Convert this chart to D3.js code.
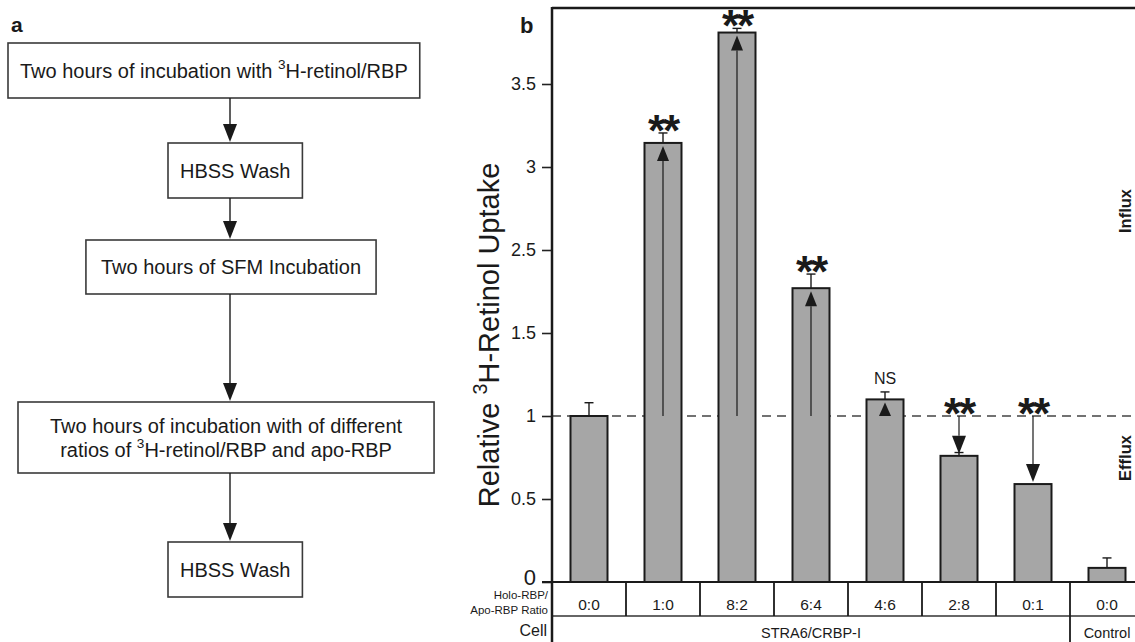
<!DOCTYPE html>
<html>
<head>
<meta charset="utf-8">
<script src="https://cdn.jsdelivr.net/npm/d3@7/dist/d3.min.js"></script>
<style>
  html, body { margin: 0; padding: 0; background: #fff; }
  svg { display: block; font-family: Arial, "Liberation Sans", Helvetica, sans-serif; }
</style>
</head>
<body>
<svg id="chart" width="1135" height="642"></svg>
<script>
// ---------------- DATA ----------------
const ratioLabels = ["0:0", "1:0", "8:2", "6:4", "4:6", "2:8", "0:1", "0:0"];
const uptake      = [1.00, 3.145, 3.81, 2.04, 1.10, 0.76, 0.59, 0.085];
const uptakeErr   = [0.08, 0.06, 0.025, 0.17, 0.045, 0.02, 0.0, 0.06];
const significance = ["", "**", "**", "**", "NS", "**", "**", ""];
const flowDirection = ["", "up", "up", "up", "up", "down", "down", ""];
const cellGroups = ["STRA6/CRBP-I", "STRA6/CRBP-I", "STRA6/CRBP-I", "STRA6/CRBP-I",
                    "STRA6/CRBP-I", "STRA6/CRBP-I", "STRA6/CRBP-I", "Control"];
const yTickValues = [0, 0.5, 1, 1.5, 2.5, 3, 3.5];
const yTickLabels = ["0", "0.5", "1", "1.5", "2.5", "3", "3.5"];
const baselineValue = 1;

// Flowchart steps (panel a): each line is a list of [text, isSuperscript]
const flowSteps = [
  [[["Two hours of incubation with ", 0], ["3", 1], ["H-retinol/RBP", 0]]],
  [[["HBSS Wash", 0]]],
  [[["Two hours of SFM Incubation", 0]]],
  [[["Two hours of incubation with of different", 0]],
   [["ratios of ", 0], ["3", 1], ["H-retinol/RBP and apo-RBP", 0]]],
  [[["HBSS Wash", 0]]]
];

// ---------------- DRAW ----------------
const svg = d3.select("#chart");
const ink = "#1a1a1a";

function addRich(textSel, parts, baseSize) {
  let prevSup = false;
  parts.forEach(([t, sup]) => {
    const ts = textSel.append("tspan").text(t);
    if (sup) {
      ts.attr("font-size", baseSize * 0.68).attr("dy", -baseSize * 0.42);
    } else if (prevSup) {
      ts.attr("dy", baseSize * 0.42);
    }
    prevSup = !!sup;
  });
}

// ===== Panel a =====
const pa = svg.append("g");
pa.append("text").attr("x", 11).attr("y", 32).attr("font-size", 21).attr("font-weight", "bold")
  .attr("fill", ink).text("a");

// box placement: left edge (or centre) and vertical extent; width from the text
const boxLayout = [
  {left: 8,   pad: 12, y0: 43,  y1: 98},
  {left: 168, pad: 12, y0: 143, y1: 198},
  {cx: 231,   pad: 15, y0: 240, y1: 294},
  {left: 18,  pad: 32, y0: 402, y1: 473},
  {left: 168, pad: 12, y0: 542, y1: 597}
];
const arrowX = 230;
const fs = 20;
const lh = 24;
flowSteps.forEach((lines, i) => {
  const b = boxLayout[i];
  const g = pa.append("g");
  const rect = g.append("rect");
  const texts = [];
  let maxW = 0;
  lines.forEach((parts, j) => {
    const yb = (b.y0 + b.y1) / 2 + (j - (lines.length - 1) / 2) * lh + fs * 0.36;
    const t = g.append("text").attr("y", yb).attr("text-anchor", "middle")
      .attr("font-size", fs).attr("fill", ink);
    addRich(t, parts, fs);
    maxW = Math.max(maxW, t.node().getComputedTextLength());
    texts.push(t);
  });
  const w = maxW + 2 * b.pad;
  const x0 = b.left !== undefined ? b.left : b.cx - w / 2;
  b.x0 = x0; b.x1 = x0 + w;
  texts.forEach(t => t.attr("x", x0 + w / 2));
  rect.attr("x", x0).attr("y", b.y0).attr("width", w).attr("height", b.y1 - b.y0)
    .attr("fill", "#fff").attr("stroke", "#3a3a3a").attr("stroke-width", 1.6);
});
boxLayout.forEach((b, i) => {
  if (i === boxLayout.length - 1) return;
  const nb = boxLayout[i + 1];
  const tipY = nb.y0 - 1;
  pa.append("line").attr("x1", arrowX).attr("x2", arrowX).attr("y1", b.y1).attr("y2", tipY - 14)
    .attr("stroke", ink).attr("stroke-width", 1.4);
  pa.append("path").attr("d", `M${arrowX - 7},${tipY - 18} L${arrowX + 7},${tipY - 18} L${arrowX},${tipY} Z`)
    .attr("fill", ink);
});

// ===== Panel b =====
const axisX = 552, topY = 8, zeroY = 582, ratioRowBottom = 616, bottomY = 642, rightX = 1144;

const x = d3.scaleBand().domain(d3.range(ratioLabels.length)).range([axisX, rightX])
  .paddingInner(0.5).paddingOuter(0.25);
// the original axis jumps from 1.5 straight to 2.5 at the same spacing
const y = d3.scaleLinear().domain([0, 1.5, 2.5, 3.5]).range([zeroY, 333, 250, 84]);

const pb = svg.append("g");
pb.append("text").attr("x", 520).attr("y", 33).attr("font-size", 22).attr("font-weight", "bold")
  .attr("fill", ink).text("b");

// frame top
pb.append("line").attr("x1", axisX).attr("x2", 1135).attr("y1", topY).attr("y2", topY)
  .attr("stroke", ink).attr("stroke-width", 2.5);

// y axis
const yAxis = d3.axisLeft(y).tickValues(yTickValues).tickFormat((d, i) => yTickLabels[i])
  .tickSizeInner(10).tickSizeOuter(0).tickPadding(6);
const gy = pb.append("g").attr("transform", `translate(${axisX},0)`).call(yAxis);
gy.select(".domain").remove();
gy.selectAll(".tick line").attr("stroke", "#222").attr("stroke-width", 1.6);
gy.selectAll(".tick text").attr("font-size", 18).attr("fill", ink).attr("font-family", "Arial, 'Liberation Sans', sans-serif");
gy.selectAll(".tick text").filter(d => d === 0).attr("font-size", 22).attr("dy", "0.1em");

// y axis label
const yl = pb.append("text")
  .attr("transform", `translate(${499},${335}) rotate(-90)`)
  .attr("text-anchor", "middle").attr("font-size", 29).attr("fill", ink);
addRich(yl, [["Relative ", 0], ["3", 1], ["H-Retinol Uptake", 0]], 29);

// dashed reference line
pb.append("line").attr("x1", axisX).attr("x2", 1135).attr("y1", y(baselineValue)).attr("y2", y(baselineValue))
  .attr("stroke", "#444").attr("stroke-width", 1.5).attr("stroke-dasharray", "9,6");

// error bars
const capW = 9;
const eb = pb.append("g");
uptake.forEach((v, i) => {
  if (!uptakeErr[i]) return;
  const cx = x(i) + x.bandwidth() / 2;
  eb.append("line").attr("x1", cx).attr("x2", cx).attr("y1", y(v)).attr("y2", y(v + uptakeErr[i]))
    .attr("stroke", ink).attr("stroke-width", 1.4);
  eb.append("line").attr("x1", cx - capW / 2).attr("x2", cx + capW / 2)
    .attr("y1", y(v + uptakeErr[i])).attr("y2", y(v + uptakeErr[i]))
    .attr("stroke", ink).attr("stroke-width", 1.4);
});

// bars
pb.append("g").selectAll("rect").data(uptake).join("rect")
  .attr("x", (d, i) => x(i)).attr("width", x.bandwidth())
  .attr("y", d => y(d)).attr("height", d => zeroY - y(d))
  .attr("fill", "#a6a6a6").attr("stroke", ink).attr("stroke-width", 2);

// flow arrows
const ar = pb.append("g");
uptake.forEach((v, i) => {
  const dir = flowDirection[i];
  if (!dir) return;
  const cx = x(i) + x.bandwidth() / 2;
  const y1 = y(baselineValue);
  const aw = 6, ah = dir === "up" ? 15 : 18;
  if (dir === "up") {
    const tip = y(v) + 3;
    const base = Math.min(tip + ah, y1);
    ar.append("line").attr("x1", cx).attr("x2", cx).attr("y1", y1).attr("y2", base)
      .attr("stroke", ink).attr("stroke-width", 1.2);
    ar.append("path").attr("d", `M${cx - aw},${base} L${cx + aw},${base} L${cx},${tip} Z`).attr("fill", ink);
  } else {
    const tip = y(v) - 2;
    const base = tip - ah;
    ar.append("line").attr("x1", cx).attr("x2", cx).attr("y1", y1).attr("y2", base)
      .attr("stroke", ink).attr("stroke-width", 1.2);
    ar.append("path").attr("d", `M${cx - aw - 1},${base} L${cx + aw + 1},${base} L${cx},${tip} Z`).attr("fill", ink);
  }
});

// significance marks
const sg = pb.append("g");
uptake.forEach((v, i) => {
  const s = significance[i];
  if (!s) return;
  const cx = x(i) + x.bandwidth() / 2;
  const top = flowDirection[i] === "down" ? y(baselineValue) : y(v + uptakeErr[i]);
  if (s === "NS") {
    sg.append("text").attr("x", cx).attr("y", top - 8).attr("text-anchor", "middle")
      .attr("font-size", 16).attr("fill", ink).text(s);
  } else {
    sg.append("text").attr("x", cx).attr("y", top + 13).attr("text-anchor", "middle")
      .attr("font-size", 44).attr("font-weight", "bold").attr("fill", ink).attr("letter-spacing", -2).text(s);
  }
});

// x axis / table lines
const tb = pb.append("g");
tb.append("line").attr("x1", axisX - 10).attr("x2", 1135).attr("y1", zeroY).attr("y2", zeroY)
  .attr("stroke", ink).attr("stroke-width", 2);
tb.append("line").attr("x1", axisX).attr("x2", 1135).attr("y1", ratioRowBottom).attr("y2", ratioRowBottom)
  .attr("stroke", "#333").attr("stroke-width", 1.6);
d3.range(1, ratioLabels.length).forEach(i => {
  const bx = x(i) - x.step() * x.paddingInner() / 2;
  const isGroupBreak = cellGroups[i] !== cellGroups[i - 1];
  tb.append("line").attr("x1", bx).attr("x2", bx).attr("y1", zeroY)
    .attr("y2", isGroupBreak ? bottomY : ratioRowBottom)
    .attr("stroke", ink).attr("stroke-width", 1.8);
});
// y axis line (full height)
tb.append("line").attr("x1", axisX).attr("x2", axisX).attr("y1", topY - 1).attr("y2", bottomY)
  .attr("stroke", ink).attr("stroke-width", 2.5);

// ratio labels
tb.selectAll("text.ratio").data(ratioLabels).join("text").attr("class", "ratio")
  .attr("x", (d, i) => x(i) + x.bandwidth() / 2).attr("y", 610)
  .attr("text-anchor", "middle").attr("font-size", 15.5).attr("fill", ink).text(d => d);

// cell group labels
const groups = [];
cellGroups.forEach((g, i) => {
  if (!groups.length || groups[groups.length - 1].name !== g) groups.push({name: g, first: i, last: i});
  else groups[groups.length - 1].last = i;
});
groups.forEach(g => {
  const gx0 = g.first === 0 ? axisX : x(g.first) - x.step() * x.paddingInner() / 2;
  const gx1 = x(g.last) + x.bandwidth() + x.step() * x.paddingInner() / 2;
  tb.append("text").attr("x", (gx0 + gx1) / 2).attr("y", 638).attr("text-anchor", "middle")
    .attr("font-size", 14.5).attr("fill", ink).text(g.name);
});

// row headers
tb.append("text").attr("x", 548).attr("y", 599).attr("text-anchor", "end").attr("font-size", 11.5)
  .attr("fill", ink).text("Holo-RBP/");
tb.append("text").attr("x", 548).attr("y", 614).attr("text-anchor", "end").attr("font-size", 11.5)
  .attr("fill", ink).text("Apo-RBP Ratio");
tb.append("text").attr("x", 547).attr("y", 636).attr("text-anchor", "end").attr("font-size", 16)
  .attr("fill", ink).text("Cell");

// influx / efflux labels
pb.append("text").attr("transform", `translate(1131,211) rotate(-90)`).attr("text-anchor", "middle")
  .attr("font-size", 16.5).attr("font-weight", "bold").attr("fill", ink).text("Influx");
pb.append("text").attr("transform", `translate(1131,458) rotate(-90)`).attr("text-anchor", "middle")
  .attr("font-size", 16.5).attr("font-weight", "bold").attr("fill", ink).text("Efflux");
</script>
</body>
</html>
